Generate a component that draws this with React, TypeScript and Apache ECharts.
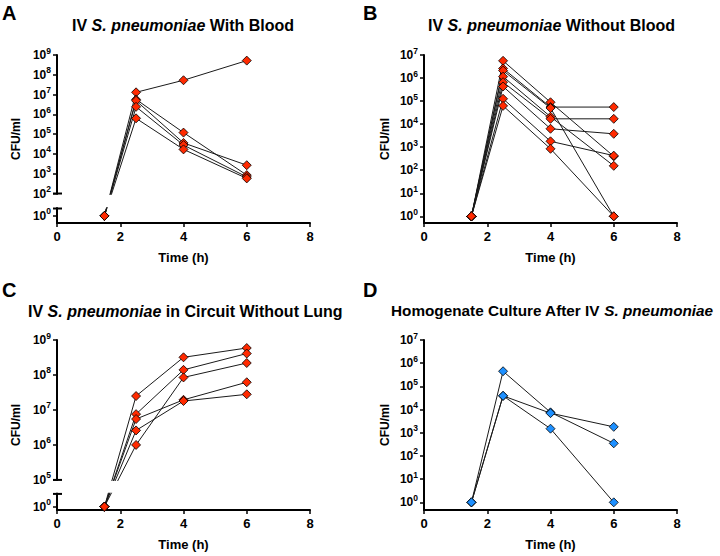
import React, { useEffect, useRef } from "react";
import * as echarts from "echarts";

// ---- data (CFU/ml) ----
const TIMES = [1.5, 2.5, 4, 6];

const panelA = [
  [1, 1.3e7, 5.3e7, 5.2e8],
  [1, 5.7e6, 1.2e5, 8.5e2],
  [1, 4.9e6, 3.6e4, 2.7e3],
  [1, 2.4e6, 2.8e4, 6.9e2],
  [1, 6.3e5, 1.7e4, 5.8e2],
];

const panelB = [
  [1, 5.6e6, 8.9e4, 4.0e2],
  [1, 2.6e6, 5.5e4, 5.5e4],
  [1, 2.1e6, 5.0e4, 1],
  [1, 1.15e6, 2.1e4, 1.55e2],
  [1, 6.6e5, 1.7e4, 1.7e4],
  [1, 4.3e5, 6.3e3, 3.8e3],
  [1, 1.26e5, 1.8e3, 4.3e2],
  [1, 6.2e4, 8.5e2, 1],
];

const panelC = [
  [1, 2.5e7, 3.2e8, 5.9e8],
  [1, 7.6e6, 1.4e8, 4.1e8],
  [1, 1.0e6, 8.5e7, 2.2e8],
  [1, 5.5e6, 1.95e7, 6.2e7],
  [1, 2.6e6, 1.8e7, 2.8e7],
];

const panelD = [
  [1, 4.5e5, 7.6e3, 3.5e2],
  [1, 3.9e4, 7.0e3, 1.8e3],
  [1, 3.9e4, 1.5e3, 1],
];

const EXPS_A = [2, 3, 4, 5, 6, 7, 8, 9];
const EXPS_B = [0, 1, 2, 3, 4, 5, 6, 7];
const EXPS_C = [5, 6, 7, 8, 9];
const EXPS_D = [0, 1, 2, 3, 4, 5, 6, 7];

const X_MIN = 0;
const X_MAX = 8;
const X_STEP = 2;

const RED = "#ff2a00";
const BLUE = "#1e90ff";
const FONT = "'Liberation Sans', Arial, Helvetica, sans-serif";

type Panel = {
  letter: string;
  pre: string;
  ital: string;
  post: string;
  data: number[][];
  color: string;
  exps: number[];
  grid: { left: number; top: number; width: number; height: number };
  yMin: number;
  yMax: number;
  breakLow?: number;
  lowerShift?: number;
  capPos?: number;
  titleLeft: number;
  titleTop: number;
  titleSize: number;
  letterLeft: number;
  letterTop: number;
  yNameGap: number;
};

const PANELS: Panel[] = [
  {
    letter: "A", pre: "IV ", ital: "S. pneumoniae", post: " With Blood",
    data: panelA, color: RED, exps: EXPS_A,
    grid: { left: 57, top: 55, width: 253, height: 168 },
    yMin: 0.51, yMax: 9, breakLow: 2, lowerShift: 0.867, capPos: 1.242,
    titleLeft: 72, titleTop: 17, titleSize: 16, letterLeft: 2, letterTop: 3, yNameGap: 35,
  },
  {
    letter: "B", pre: "IV ", ital: "S. pneumoniae", post: " Without Blood",
    data: panelB, color: RED, exps: EXPS_B,
    grid: { left: 424, top: 55, width: 253, height: 168 },
    yMin: -0.29, yMax: 7,
    titleLeft: 428, titleTop: 17, titleSize: 16, letterLeft: 363, letterTop: 3, yNameGap: 33,
  },
  {
    letter: "C", pre: "IV ", ital: "S. pneumoniae", post: " in Circuit Without Lung",
    data: panelC, color: RED, exps: EXPS_C,
    grid: { left: 57, top: 340, width: 253, height: 170 },
    yMin: 4.14, yMax: 9, breakLow: 5, lowerShift: 4.236, capPos: 4.6,
    titleLeft: 28, titleTop: 303, titleSize: 16, letterLeft: 2, letterTop: 280, yNameGap: 35,
  },
  {
    letter: "D", pre: "Homogenate Culture After IV ", ital: "S. pneumoniae", post: "",
    data: panelD, color: BLUE, exps: EXPS_D,
    grid: { left: 424, top: 340, width: 253, height: 170 },
    yMin: -0.33, yMax: 7,
    titleLeft: 391, titleTop: 303, titleSize: 15.3, letterLeft: 363, letterTop: 280, yNameGap: 33,
  },
];

function toPos(p: Panel, v: number): number {
  const l = Math.log10(v);
  if (p.breakLow !== undefined && l < p.breakLow) return l + (p.lowerShift as number);
  return l;
}

function tickList(p: Panel): { pos: number; exp: number }[] {
  const t = p.exps.map((e) => ({ pos: e, exp: e }));
  if (p.breakLow !== undefined) t.push({ pos: p.lowerShift as number, exp: 0 });
  return t;
}

function buildOption(): any {
  const black = "#000";
  const title: any[] = [];
  const grid: any[] = [];
  const xAxis: any[] = [];
  const yAxis: any[] = [];
  const series: any[] = [];

  PANELS.forEach((p, i) => {
    title.push({
      text: "{n|" + p.pre + "}{i|" + p.ital + "}" + (p.post ? "{n|" + p.post + "}" : ""),
      left: p.titleLeft,
      top: p.titleTop,
      padding: 0,
      textStyle: {
        rich: {
          n: { fontSize: p.titleSize, fontWeight: "bold", color: black, fontFamily: FONT },
          i: { fontSize: p.titleSize, fontWeight: "bold", fontStyle: "italic", color: black, fontFamily: FONT },
        },
      },
    });
    title.push({
      text: p.letter,
      left: p.letterLeft,
      top: p.letterTop,
      padding: 0,
      textStyle: { fontSize: 20, fontWeight: "bold", color: black, fontFamily: FONT },
    });

    grid.push({ ...p.grid, containLabel: false });

    xAxis.push({
      type: "value",
      gridIndex: i,
      min: X_MIN,
      max: X_MAX,
      interval: X_STEP,
      axisLine: { show: true, onZero: false, lineStyle: { color: black, width: 2 } },
      axisTick: { show: true, length: 4, lineStyle: { color: black, width: 1.5 } },
      axisLabel: { fontSize: 13, fontWeight: "bold", color: black, margin: 7, fontFamily: FONT },
      splitLine: { show: false },
      name: "Time (h)",
      nameLocation: "middle",
      nameGap: 28,
      nameTextStyle: { fontSize: 13, fontWeight: "bold", color: black, fontFamily: FONT },
    });

    const ticks = tickList(p);
    const tickPos = ticks.map((t) => t.pos);
    yAxis.push({
      type: "value",
      gridIndex: i,
      min: p.yMin,
      max: p.yMax,
      axisLine: { show: true, onZero: false, lineStyle: { color: black, width: 2 } },
      axisTick: { show: true, length: 4, customValues: tickPos, lineStyle: { color: black, width: 1.5 } },
      axisLabel: {
        customValues: tickPos,
        margin: 6,
        formatter: (v: number) => {
          const t = ticks.find((k) => Math.abs(k.pos - v) < 1e-6);
          const e = t ? t.exp : Math.round(v);
          return "{b|10}{s|" + e + "}";
        },
        rich: {
          b: { fontSize: 12, fontWeight: "bold", color: black, fontFamily: FONT, lineHeight: 18 },
          s: { fontSize: 8.5, fontWeight: "bold", color: black, fontFamily: FONT, lineHeight: 9, verticalAlign: "top" },
        },
      },
      splitLine: { show: false },
      name: "CFU/ml",
      nameLocation: "middle",
      nameGap: p.yNameGap,
      nameTextStyle: { fontSize: 12, fontWeight: "bold", color: black, fontFamily: FONT },
    });

    p.data.forEach((mouse, k) => {
      series.push({
        type: "line",
        name: p.letter + "-" + (k + 1),
        xAxisIndex: i,
        yAxisIndex: i,
        data: mouse.map((v, j) => [TIMES[j], toPos(p, v)]),
        symbol: "none",
        silent: true,
        lineStyle: { color: "#1a1a1a", width: 1 },
        z: 2,
      });
    });

    const pts: number[][] = [];
    p.data.forEach((mouse) => mouse.forEach((v, j) => pts.push([TIMES[j], toPos(p, v)])));
    series.push({
      type: "scatter",
      name: p.letter + "-points",
      xAxisIndex: i,
      yAxisIndex: i,
      data: pts,
      symbol: "diamond",
      symbolSize: 9,
      itemStyle: { color: p.color, borderColor: "#000", borderWidth: 0.8, opacity: 1 },
      z: 5,
    });
  });

  return {
    animation: false,
    backgroundColor: "#fff",
    textStyle: { fontFamily: FONT },
    title,
    grid,
    xAxis,
    yAxis,
    series,
  };
}

export default function App() {
  const ref = useRef<HTMLDivElement>(null);

  useEffect(() => {
    document.body.style.margin = "0";
    if (!ref.current) return;
    const chart = echarts.init(ref.current, undefined, { renderer: "svg" });
    chart.setOption(buildOption());

    // broken-axis decorations (gap mask + caps), positioned through the axes
    const graphics: any[] = [];
    PANELS.forEach((p, i) => {
      if (p.breakLow === undefined || p.capPos === undefined) return;
      const up = chart.convertToPixel({ gridIndex: i } as any, [X_MIN, p.breakLow]) as number[];
      const cap = chart.convertToPixel({ gridIndex: i } as any, [X_MIN, p.capPos]) as number[];
      const right = chart.convertToPixel({ gridIndex: i } as any, [X_MAX, p.capPos]) as number[];
      graphics.push({
        type: "rect",
        z: 100,
        silent: true,
        shape: { x: up[0] - 5, y: up[1] + 1.2, width: right[0] - up[0] + 10, height: cap[1] - up[1] - 2.4 },
        style: { fill: "#fff" },
      });
      graphics.push({
        type: "line",
        z: 101,
        silent: true,
        shape: { x1: up[0] - 4, y1: up[1], x2: up[0] + 5, y2: up[1] },
        style: { stroke: "#000", lineWidth: 2 },
      });
      graphics.push({
        type: "line",
        z: 101,
        silent: true,
        shape: { x1: cap[0] - 4, y1: cap[1], x2: cap[0] + 5, y2: cap[1] },
        style: { stroke: "#000", lineWidth: 2 },
      });
    });
    chart.setOption({ graphic: graphics });

    return () => chart.dispose();
  }, []);

  return <div ref={ref} style={{ width: 720, height: 556 }} />;
}
